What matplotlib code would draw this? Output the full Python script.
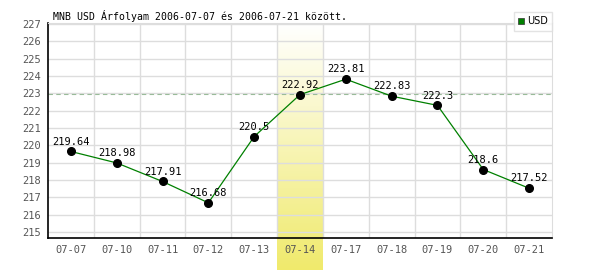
import numpy as np
import matplotlib.pyplot as plt
from matplotlib.colors import LinearSegmentedColormap

dates = ['07-07', '07-10', '07-11', '07-12', '07-13', '07-14',
         '07-17', '07-18', '07-19', '07-20', '07-21']
usd = [219.64, 218.98, 217.91, 216.68, 220.5, 222.92,
       223.81, 222.83, 222.3, 218.6, 217.52]
ref_level = 222.97
highlight = '07-14'

fig = plt.figure(figsize=(6, 2.7), dpi=100)
ax = fig.add_axes([0.08, 0.1185, 0.84, 0.7963])

x = np.arange(len(dates))
ax.set_xlim(-0.5, len(dates) - 0.5)
ax.set_ylim(214.65, 227.05)

# highlighted day: gradient band from the top of the plot to the bottom of the figure
hi = dates.index(highlight)
grad = np.linspace(0, 1, 256).reshape(-1, 1)
cmap = LinearSegmentedColormap.from_list('band', ['#ffffff', '#f0ea6c'])
ax.imshow(grad, extent=[hi - 0.5, hi + 0.5, 212.8, 227.05], aspect='auto',
          cmap=cmap, origin='upper', zorder=0, clip_on=False)

# grid
for yv in range(215, 228):
    ax.axhline(yv, color='#dddddd', lw=1, zorder=1)
for xv in np.arange(0.5, len(dates) - 0.5):
    ax.axvline(xv, color='#dddddd', lw=1, zorder=1)
ax.axhline(ref_level, color='#99bb99', lw=0.8, ls=(0, (4, 3)), zorder=2)

ax.plot(x, usd, color='#008000', lw=0.9, zorder=3)
ax.plot(x, usd, 'o', color='black', ms=5.5, zorder=4)
for xi, v in zip(x, usd):
    ax.annotate(f'{v:g}', (xi, v), xytext=(0, 3.5), textcoords='offset points',
                ha='center', va='bottom', fontsize=7.5,
                family='DejaVu Sans Mono', zorder=5)

ax.set_xticks(x)
ax.set_xticklabels(dates)
ax.set_yticks(range(215, 228))
ax.tick_params(length=0, labelsize=7.5, labelcolor='#555555', pad=5)
for lab in ax.get_xticklabels() + ax.get_yticklabels():
    lab.set_family('DejaVu Sans Mono')

ax.spines['left'].set_color('black')
ax.spines['bottom'].set_color('black')
ax.spines['left'].set_linewidth(1.2)
ax.spines['bottom'].set_linewidth(1.2)
ax.spines['top'].set_color('#dddddd')
ax.spines['right'].set_color('#dddddd')

fig.text(0.088, 0.942, 'MNB USD Árfolyam 2006-07-07 és 2006-07-21 között.',
         fontsize=7.1, family='DejaVu Sans Mono', va='center')

leg = ax.legend([plt.Line2D([], [], marker='s', color='#008000', ls='none',
                            ms=5, markeredgecolor='#333333', markeredgewidth=0.5)],
                ['USD'], loc='upper right', bbox_to_anchor=(1.0, 1.051),
                fontsize=7, frameon=True, fancybox=False, handlelength=0.6,
                handletextpad=0.3, borderpad=0.45, borderaxespad=0)
leg.get_frame().set_edgecolor('#dddddd')
leg.get_frame().set_linewidth(1)
leg.set_zorder(6)

plt.savefig('out.png', dpi=100)
